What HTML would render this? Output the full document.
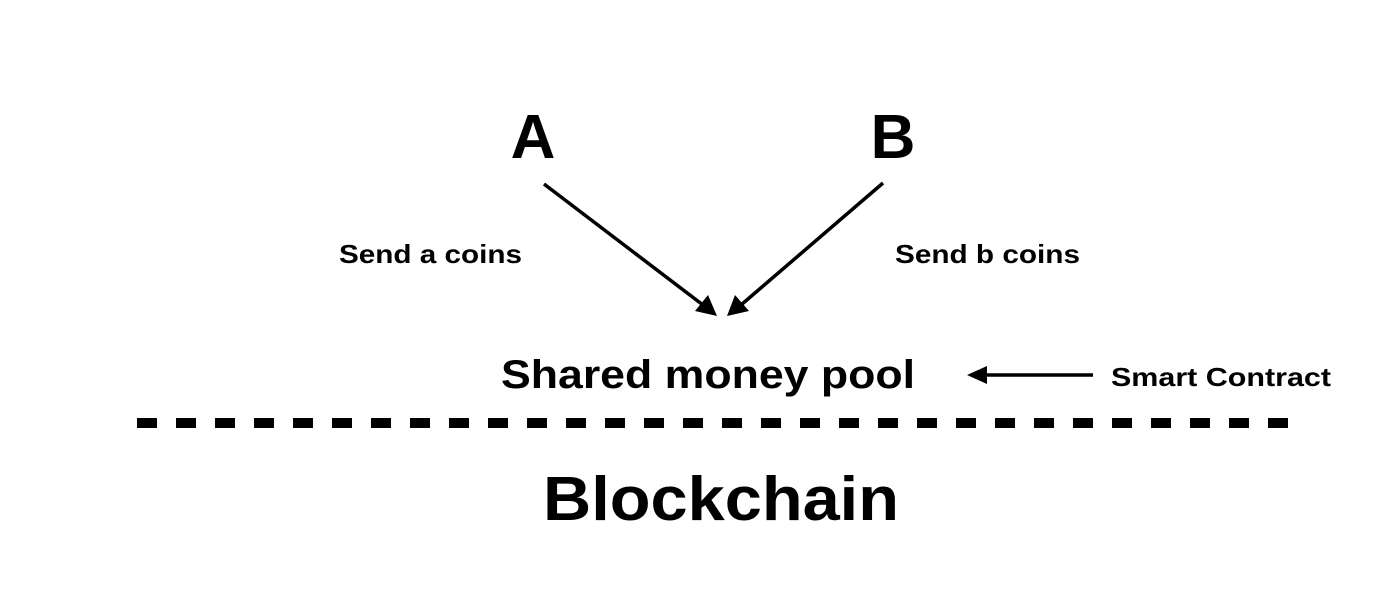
<!DOCTYPE html>
<html><head><meta charset="utf-8"><style>html,body{margin:0;padding:0;background:#fff}svg{display:block}</style></head>
<body>
<svg width="1400" height="589" viewBox="0 0 1400 589" xmlns="http://www.w3.org/2000/svg" font-family="Liberation Sans, Arial, sans-serif" font-weight="bold" fill="#000">
<defs><marker id="ah" viewBox="0 0 10 10" refX="10" refY="5" markerWidth="5" markerHeight="5" orient="auto" markerUnits="userSpaceOnUse" ><path d="M0,0 L10,5 L0,10 z"/></marker></defs>
<text x="533" y="158" font-size="62" text-anchor="middle">A</text>
<text x="893" y="158" font-size="62" text-anchor="middle">B</text>
<text x="339" y="263" font-size="26" textLength="183" lengthAdjust="spacingAndGlyphs">Send a coins</text>
<text x="895" y="263" font-size="26" textLength="185" lengthAdjust="spacingAndGlyphs">Send b coins</text>
<text x="501" y="388" font-size="40" textLength="414" lengthAdjust="spacingAndGlyphs">Shared money pool</text>
<text x="1111" y="386" font-size="26" textLength="220" lengthAdjust="spacingAndGlyphs">Smart Contract</text>
<text x="543" y="520" font-size="62" textLength="356" lengthAdjust="spacingAndGlyphs">Blockchain</text>
<g stroke="#000" stroke-width="3.5" fill="none">
<line x1="544" y1="184" x2="703" y2="305"/>
<line x1="883" y1="183" x2="741" y2="305"/>
<line x1="1093" y1="375" x2="985" y2="375"/>
</g>
<polygon points="717,316 695,311 708,295"/>
<polygon points="727,316 735,295 749,311"/>
<polygon points="967,375 987,366 987,384"/>
<line x1="137" y1="423" x2="1292" y2="423" stroke="#000" stroke-width="10" stroke-dasharray="20 19"/>
</svg>
</body></html>
